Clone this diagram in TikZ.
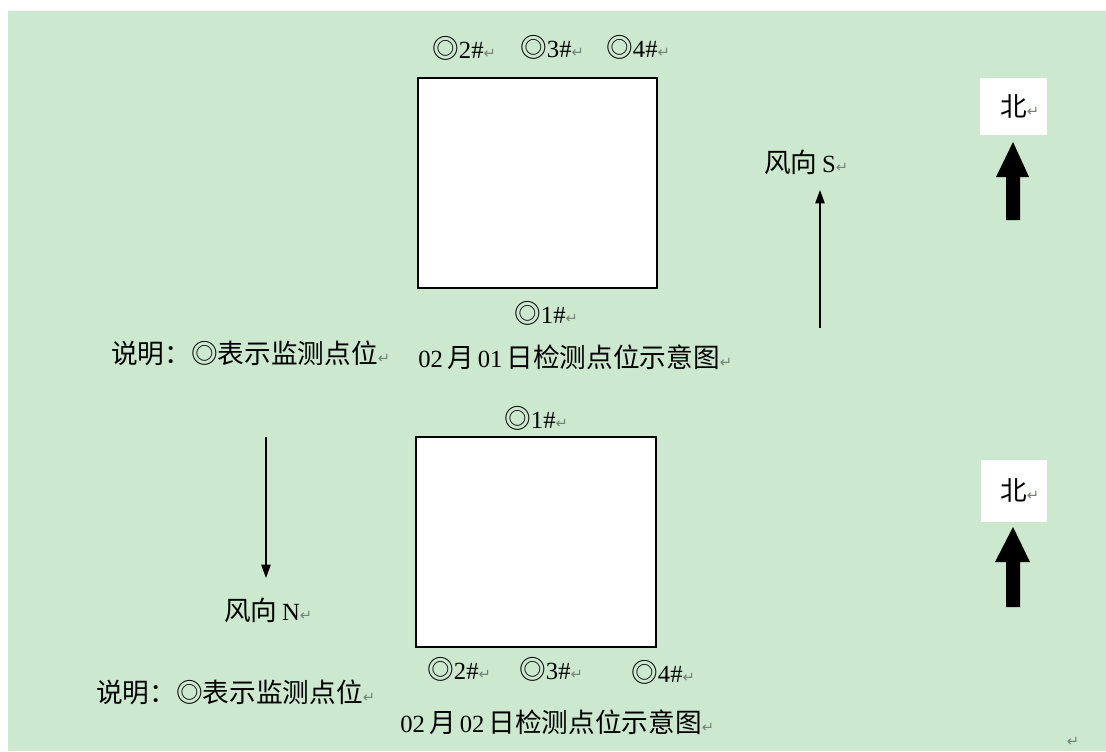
\documentclass[tikz,border=0pt]{standalone}
\usepackage{fontspec}
\setmainfont{Liberation Serif}
\newfontfamily\cjk{Noto Sans CJK SC}
\newfontfamily\dejavu{DejaVu Sans}
\usetikzlibrary{arrows.meta}
\definecolor{bggreen}{RGB}{204,232,207}
\definecolor{markgray}{RGB}{120,130,120}
\newcommand\retmark{{\dejavu\color{markgray}\fontsize{11pt}{11pt}\selectfont ↵}}
\begin{document}
\begin{tikzpicture}[x=0.75pt,y=-0.75pt,
  cj/.style={anchor=west,inner sep=0pt,font=\cjk\fontsize{20pt}{22pt}\selectfont},
  lat/.style={font=\rmfamily\fontsize{18.5pt}{22pt}\selectfont},
  site/.style={draw=black,fill=white,line width=1.2pt},
  wind/.style={line width=1pt,-{Triangle[length=10pt,width=7pt]}},
  northbox/.style={fill=white,draw=none},
  northarrow/.style={fill=black,draw=none}]
\useasboundingbox (0,0) rectangle (1106,751);
\fill[white] (0,0) rectangle (1106,751);
\fill[bggreen] (8,11) rectangle (1106,751);
\newcommand\lt[1]{{\rmfamily\fontsize{18.5pt}{22pt}\selectfont #1}}

% ---------- top diagram ----------
\draw[site] (418,78) rectangle (657,288);
\node[cj] (t2) at (432,48) {◎\lt{2\#}\retmark};
\node[cj] (t3) at (520,47) {◎\lt{3\#}\retmark};
\node[cj] (t4) at (606,47) {◎\lt{4\#}\retmark};
\node[cj] (t1) at (514,313) {◎\lt{1\#}\retmark};
\node[cj] (tnote) at (111,353) {说明：◎表示监测点位\retmark};
\node[cj] (ttitle) at (418,357) {\lt{02\,}月\lt{\,01\,}日检测点位示意图\retmark};
\coordinate (tw1) at (820,328);
\coordinate (tw2) at (820,190);
\draw[wind] (tw1) -- (tw2);
\node[cj] (twl) at (764,162) {风向\,\lt{S}\retmark};
\fill[northbox] (980,78) rectangle (1047,135);
\node[cj] (tn) at (1000,106) {北\retmark};
\fill[northarrow] (1013,142) -- (1029,177) -- (1020,177) -- (1020,220) -- (1006,220) -- (1006,177) -- (996,177) -- cycle;

% ---------- bottom diagram ----------
\draw[site] (416,437) rectangle (656,647);
\node[cj] (b1) at (504,418) {◎\lt{1\#}\retmark};
\node[cj] (b2) at (427,669) {◎\lt{2\#}\retmark};
\node[cj] (b3) at (519,669) {◎\lt{3\#}\retmark};
\node[cj] (b4) at (631,672) {◎\lt{4\#}\retmark};
\node[cj] (bnote) at (96,692) {说明：◎表示监测点位\retmark};
\node[cj] (btitle) at (400,722) {\lt{02\,}月\lt{\,02\,}日检测点位示意图\retmark};
\coordinate (bw1) at (266,437);
\coordinate (bw2) at (266,578);
\draw[wind] (bw1) -- (bw2);
\node[cj] (bwl) at (224,610) {风向\,\lt{N}\retmark};
\fill[northbox] (981,460) rectangle (1047,522);
\node[cj] (bn) at (1000,490) {北\retmark};
\fill[northarrow] (1013,527) -- (1030,562) -- (1020,562) -- (1020,607) -- (1006,607) -- (1006,562) -- (995,562) -- cycle;

\node[inner sep=0pt] (endmark) at (1073,742) {\retmark};
\end{tikzpicture}
\end{document}
